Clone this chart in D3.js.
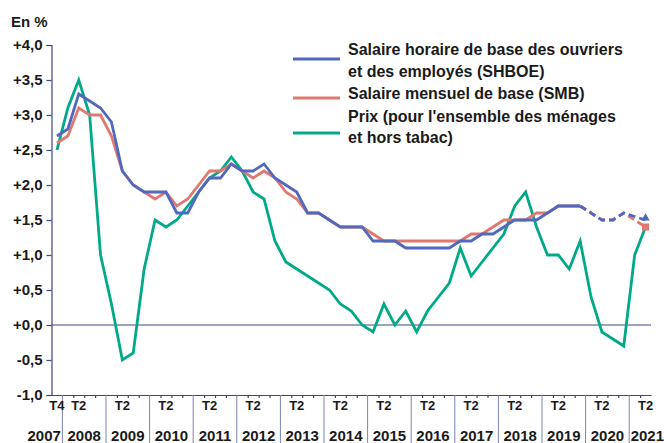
<!DOCTYPE html>
<html>
<head>
<meta charset="utf-8">
<script src="https://cdn.jsdelivr.net/npm/d3@7"></script>
<style>
body { margin: 0; background: #fff; }
text { font-family: "Liberation Sans", Arial, sans-serif; font-weight: bold; fill: #1a1a1a; }
</style>
</head>
<body>
<div id="chart"></div>
<script>
// quarters run from 2007 T4 to 2021 T2
var years = ["2007","2008","2009","2010","2011","2012","2013","2014","2015","2016","2017","2018","2019","2020","2021"];
var quartersInYear = [1,4,4,4,4,4,4,4,4,4,4,4,4,4,2];
var yTicks = [-1,-0.5,0,0.5,1,1.5,2,2.5,3,3.5,4];

var shboe = [2.7,2.8,3.3,3.2,3.1, 2.9,2.2,2.0,1.9,1.9, 1.9,1.6,1.6,1.9,2.1, 2.1,2.3,2.2,2.2,2.3,
             2.1,2.0,1.9,1.6,1.6, 1.5,1.4,1.4,1.4,1.2, 1.2,1.2,1.1,1.1,1.1, 1.1,1.1,1.2,1.2,1.3,
             1.3,1.4,1.5,1.5,1.5, 1.6,1.7,1.7,1.7,1.6, 1.5,1.5,1.6,1.55,1.5];
var smb   = [2.6,2.7,3.1,3.0,3.0, 2.7,2.2,2.0,1.9,1.8, 1.9,1.7,1.8,2.0,2.2, 2.2,2.3,2.2,2.1,2.2,
             2.1,1.9,1.8,1.6,1.6, 1.5,1.4,1.4,1.4,1.3, 1.2,1.2,1.2,1.2,1.2, 1.2,1.2,1.2,1.3,1.3,
             1.4,1.5,1.5,1.5,1.6, 1.6,1.7,1.7,1.7,1.6, 1.5,1.5,1.6,1.5,1.4];
var prix  = [2.5,3.1,3.5,3.0,1.0, 0.3,-0.5,-0.4,0.8,1.5, 1.4,1.5,1.7,1.9,2.1, 2.2,2.4,2.2,1.9,1.8,
             1.2,0.9,0.8,0.7,0.6, 0.5,0.3,0.2,0.0,-0.1, 0.3,0.0,0.2,-0.1,0.2, 0.4,0.6,1.1,0.7,0.9,
             1.1,1.3,1.7,1.9,1.4, 1.0,1.0,0.8,1.2,0.4, -0.1,-0.2,-0.3,1.0,1.4];
var dashFrom = 48; // provisional values drawn dashed from here

var legendLabels = [
  ["Salaire horaire de base des ouvriers", "et des employés (SHBOE)"],
  ["Salaire mensuel de base (SMB)"],
  ["Prix (pour l'ensemble des ménages", "et hors tabac)"]
];
var colors = ["#5068bd", "#e07870", "#00a987"];
var axisColor = "#3d4488";

var width = 664, height = 443;
var nQ = d3.sum(quartersInYear);

var svg = d3.select("#chart").append("svg")
    .attr("width", width)
    .attr("height", height);

var x = d3.scaleLinear().domain([0, nQ]).range([51.5, 651]);
var y = d3.scaleLinear().domain([-1, 4]).range([395, 45]);

function fmt(v) {
    var s = Math.abs(v).toFixed(1).replace(".", ",");
    return (v < 0 ? "-" : "+") + s;
}

// y axis
var yAxis = svg.append("g")
    .attr("transform", "translate(" + x(0) + ",0)")
    .call(d3.axisLeft(y).tickValues(yTicks).tickFormat(fmt).tickSize(5).tickPadding(4));
yAxis.select(".domain").attr("stroke", axisColor).attr("stroke-width", 1.2);
yAxis.selectAll(".tick line").attr("stroke", axisColor).attr("stroke-width", 1.2);
yAxis.selectAll(".tick text")
    .style("font-size", "15px").style("font-family", "Liberation Sans, Arial, sans-serif")
    .style("font-weight", "bold").attr("fill", "#1a1a1a");

svg.append("text").attr("x", 11).attr("y", 27)
    .style("font-size", "15px").text("En %");

// zero line
svg.append("line")
    .attr("x1", x(0)).attr("x2", x(nQ))
    .attr("y1", y(0)).attr("y2", y(0))
    .attr("stroke", axisColor).attr("stroke-width", 1.2);

// x axis: quarter ticks
var bounds = [];
var yearStart = [];
var acc = 0;
years.forEach(function(yr, k) {
    yearStart.push(acc);
    acc += quartersInYear[k];
});
yearStart.push(acc);
for (var q = 1; q < nQ; q++) {
    if (yearStart.indexOf(q) < 0) bounds.push(q);
}
var xAxis = svg.append("g")
    .attr("transform", "translate(0," + y(-1) + ")")
    .call(d3.axisBottom(x).tickValues(bounds).tickFormat("").tickSize(3).tickSizeOuter(0));
xAxis.select(".domain").attr("stroke", axisColor).attr("stroke-width", 1.2);
xAxis.selectAll(".tick line").attr("stroke", axisColor).attr("stroke-width", 1.2);

// year separators
svg.selectAll(".sep").data(yearStart.slice(1, years.length))
    .enter().append("line")
    .attr("x1", function(d) { return x(d); }).attr("x2", function(d) { return x(d); })
    .attr("y1", y(-1)).attr("y2", height)
    .attr("stroke", "#7b81b3").attr("stroke-width", 1);

// quarter labels (T2 each year, T4 for 2007)
var qLabels = [];
years.forEach(function(yr, k) {
    if (k == 0) qLabels.push({i: 0, t: "T4"});
    else qLabels.push({i: yearStart[k] + 1, t: "T2"});
});
svg.selectAll(".ql").data(qLabels).enter().append("text")
    .attr("x", function(d) { return x(d.i + 0.5); })
    .attr("y", 410)
    .attr("text-anchor", "middle")
    .style("font-size", "13px")
    .text(function(d) { return d.t; });

var lastY = years.length - 1;
svg.selectAll(".yl").data(years).enter().append("text")
    .attr("x", function(d, k) {
        if (k == 0) return x(yearStart[1]) - 1.5;
        if (k == lastY) return x(yearStart[k]) + 1.5;
        return (x(yearStart[k]) + x(yearStart[k + 1])) / 2;
    })
    .attr("y", 441)
    .attr("text-anchor", function(d, k) { return k == 0 ? "end" : (k == lastY ? "start" : "middle"); })
    .style("font-size", "15px")
    .text(function(d) { return d; });

// lines
var line = d3.line()
    .x(function(d) { return x(d.i + 0.5); })
    .y(function(d) { return y(d.v); });

function pts(arr, a, b) {
    var out = [];
    for (var i = a; i <= b; i++) out.push({i: i, v: arr[i]});
    return out;
}

svg.append("path").attr("d", line(pts(prix, 0, nQ - 1)))
    .attr("fill", "none").attr("stroke", colors[2]).attr("stroke-width", 2.8)
    .attr("stroke-linejoin", "miter");

[[smb, colors[1]], [shboe, colors[0]]].forEach(function(s) {
    svg.append("path").attr("d", line(pts(s[0], 0, dashFrom)))
        .attr("fill", "none").attr("stroke", s[1]).attr("stroke-width", 2.8);
    svg.append("path").attr("d", line(pts(s[0], dashFrom, nQ - 1)))
        .attr("fill", "none").attr("stroke", s[1]).attr("stroke-width", 2.8)
        .attr("stroke-dasharray", "7,4");
});

// end markers
var last = nQ - 1;
svg.append("rect")
    .attr("x", x(last + 0.5) - 3.5).attr("y", y(smb[last]) - 3.5)
    .attr("width", 7).attr("height", 7).attr("fill", colors[1]);
svg.append("path")
    .attr("d", d3.symbol().type(d3.symbolTriangle).size(30)())
    .attr("transform", "translate(" + x(last + 0.5) + "," + (y(shboe[last]) - 2) + ")")
    .attr("fill", colors[0]);

// legend
var legY = [[55, 77], [99], [122, 143]];
var legLineY = [59, 98, 133];
legendLabels.forEach(function(lbl, k) {
    svg.append("line")
        .attr("x1", 293).attr("x2", 340)
        .attr("y1", legLineY[k]).attr("y2", legLineY[k])
        .attr("stroke", colors[k]).attr("stroke-width", 2.8);
    lbl.forEach(function(t, j) {
        svg.append("text").attr("x", 348).attr("y", legY[k][j])
            .style("font-size", "16px").text(t);
    });
});
</script>
</body>
</html>
